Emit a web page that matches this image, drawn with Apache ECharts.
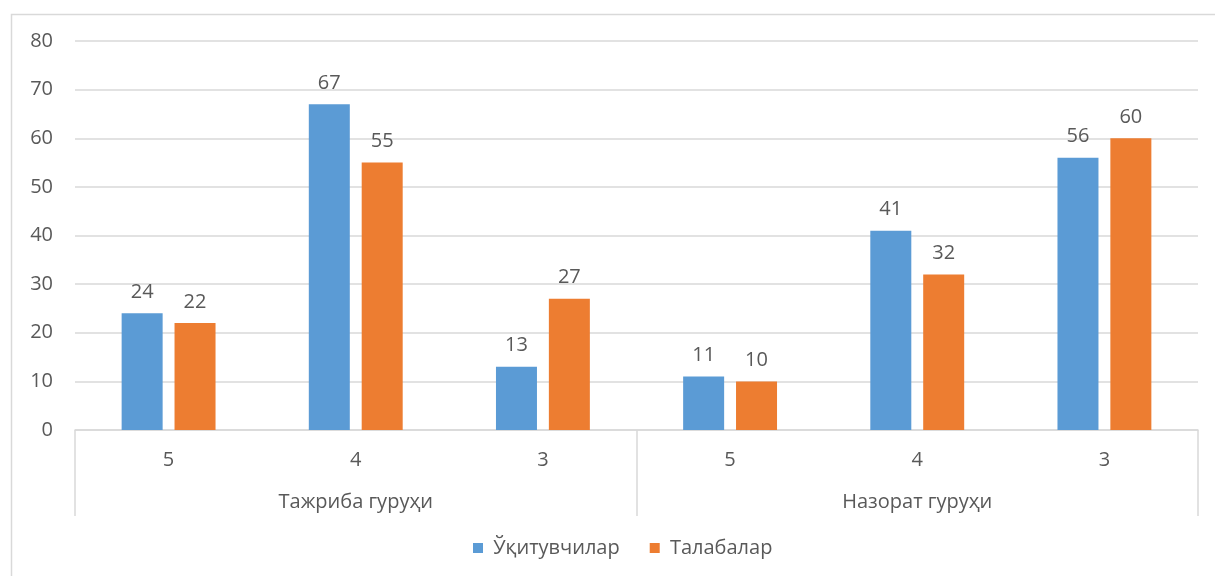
<!DOCTYPE html>
<html>
<head>
<meta charset="utf-8">
<script src="https://cdn.jsdelivr.net/npm/echarts@6/dist/echarts.min.js"></script>
<style>
html,body{margin:0;padding:0;background:#fff;}
#c{width:1215px;height:576px;}
</style>
</head>
<body>
<div id="c"></div>
<script>
const categories = ['5', '4', '3', '5', '4', '3'];
const groups = ['Тажриба гуруҳи', 'Назорат гуруҳи'];
const seriesNames = ['Ўқитувчилар', 'Талабалар'];
const teachers = [24, 67, 13, 11, 41, 56];
const students = [22, 55, 27, 10, 32, 60];
const yTicks = { min: 0, max: 80, interval: 10 };

const FONT = '"Open Sans", "Noto Sans", sans-serif';
const TXT = '#595959';
const FS = 20;
const chart = echarts.init(document.getElementById('c'), null, { renderer: 'canvas' });

const labelStyle = {
  show: true, position: 'top', distance: 11,
  color: TXT, fontSize: FS, fontFamily: FONT
};

chart.setOption({
  animation: false,
  backgroundColor: '#fff',
  graphic: [{
    type: 'rect', silent: true, z: -10,
    shape: { x: 11.5, y: 14.5, width: 1220, height: 600 },
    style: { fill: 'none', stroke: '#d9d9d9', lineWidth: 1.5 }
  }],
  grid: { left: 75, right: 17, top: 41, bottom: 146, containLabel: false },
  legend: {
    data: seriesNames, bottom: 13, left: 468,
    itemWidth: 10, itemHeight: 10, itemGap: 30, icon: 'rect',
    formatter: ' {name}',
    textStyle: { color: TXT, fontSize: FS, fontFamily: FONT }
  },
  xAxis: [{
    type: 'category', data: categories, position: 'bottom',
    axisLine: { show: true, lineStyle: { color: '#d9d9d9', width: 1.5 } },
    axisTick: { show: false },
    axisLabel: { color: TXT, fontSize: FS, fontFamily: FONT, margin: 20 }
  }, {
    type: 'category', data: groups, position: 'bottom',
    axisLine: { show: false },
    axisTick: { show: true, length: 86, lineStyle: { color: '#d9d9d9', width: 1.5 } },
    axisLabel: { color: TXT, fontSize: FS, fontFamily: FONT, margin: 62 },
    splitLine: { show: false }
  }],
  yAxis: {
    type: 'value', min: yTicks.min, max: yTicks.max, interval: yTicks.interval,
    axisLine: { show: false }, axisTick: { show: false },
    axisLabel: { color: TXT, fontSize: FS, fontFamily: FONT, margin: 22 },
    splitLine: { lineStyle: { color: '#d9d9d9', width: 1.5 } }
  },
  series: [{
    name: seriesNames[0], type: 'bar', data: teachers, xAxisIndex: 0,
    barWidth: 41, barGap: '29%',
    itemStyle: { color: '#5B9BD5' }, label: labelStyle
  }, {
    name: seriesNames[1], type: 'bar', data: students, xAxisIndex: 0,
    barWidth: 41, barGap: '29%',
    itemStyle: { color: '#ED7D31' }, label: labelStyle
  }]
});
</script>
</body>
</html>
